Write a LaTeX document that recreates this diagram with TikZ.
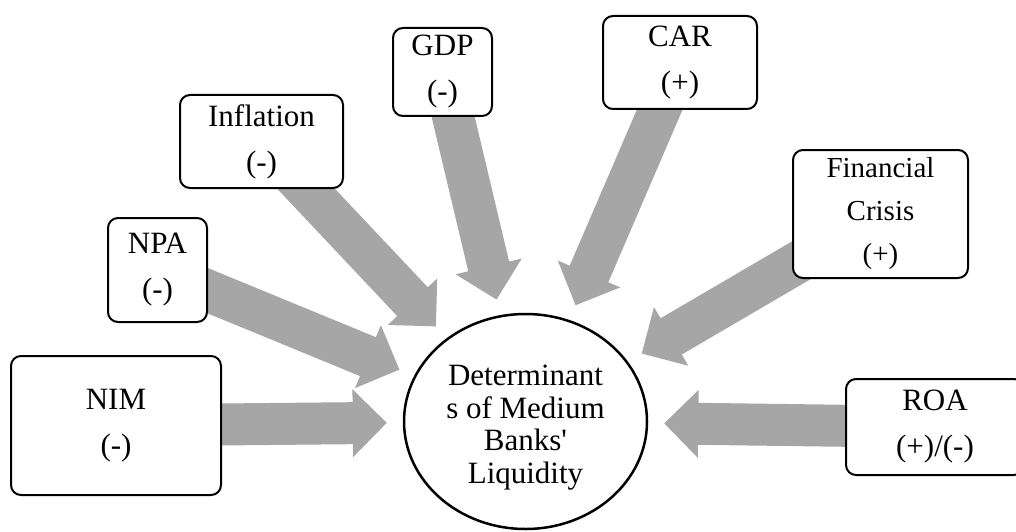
\documentclass[tikz,border=0pt]{standalone}
\usepackage{fontspec}
\usepackage{tikz}
\usetikzlibrary{calc,shapes.geometric,backgrounds}
\newfontfamily\timesfont{Liberation Serif}
\definecolor{arrowgray}{HTML}{A6A6A6}
\tikzset{
    %Define style for factor boxes
    factor/.style={
           rectangle,
           rounded corners=10pt,
           draw=black, line width=2pt,
           fill=white,
           inner sep=0pt,
           align=center,
           font=\timesfont\fontsize{31}{46}\selectfont},
    %Define style for the centre ellipse
    hub/.style={
           ellipse,
           draw=black, line width=2.5pt,
           fill=white,
           inner sep=0pt,
           minimum width=243pt,
           minimum height=215pt},
    hubtext/.style={
           inner sep=0pt,
           align=center,
           font=\timesfont\fontsize{31}{32.5}\selectfont},
    % Define arrow style
    pil/.style={
           fill=arrowgray,
           draw=none}
}
% block arrow from a factor box towards the hub
\newcommand{\pilarrow}[2]{%
  \path (#1) -- (#2) coordinate[pos=1] (tip);
  \fill[pil] let \p1=(#1), \p2=($(tip)!16pt!(#1)$),
      \n1={atan2(\y2-\y1,\x2-\x1)},
      \n2={veclen(\x2-\x1,\y2-\y1)-34pt} in
    (\p1) ++(\n1+90:21pt) -- ++(\n1:\n2) -- ++(\n1+90:13pt) -- (\p2)
    -- ++(\n1-135:48.08pt) -- ++(\n1+90:13pt) -- ++(\n1+180:\n2) -- cycle;}

\begin{document}
\begin{tikzpicture}[x=1pt,y=-1pt]
\useasboundingbox (0,0) rectangle (1016,532);
\clip (0,0) rectangle (1016,532);
 %nodes
\node[hub](liq) at (525.5,421.5){};
\node[hubtext](liqtext) at ([yshift=-6pt]liq.center){Determinant\\s of Medium\\Banks'\\Liquidity};
\node[factor, minimum width=210pt, minimum height=139pt](nim) at (116,425.5){NIM\\(-)};
\node[factor, minimum width=99pt, minimum height=104pt](npa) at (157.5,270){NPA\\(-)};
\node[factor, minimum width=163pt, minimum height=93pt](infl) at (261.5,141.5){Inflation\\(-)};
\node[factor, minimum width=99pt, minimum height=88pt](gdp) at (442.5,72){GDP\\(-)};
\node[factor, minimum width=154pt, minimum height=93pt](car) at (680,62.5){CAR\\(+)};
\node[factor, minimum width=175pt, minimum height=128pt,
      font=\timesfont\fontsize{29}{43}\selectfont](crisis) at (880.5,214){Financial\\Crisis\\(+)};
\node[factor, minimum width=178pt, minimum height=96pt](roa) at (935,427){ROA\\(+)/(-)};
 %arrows
\begin{scope}[on background layer]
\pilarrow{nim}{liq}
\pilarrow{npa}{liq}
\pilarrow{infl}{liq}
\pilarrow{gdp}{liq}
\pilarrow{car}{liq}
\pilarrow{crisis}{liq}
\pilarrow{roa}{liq}
\end{scope}
\end{tikzpicture}
\end{document}
